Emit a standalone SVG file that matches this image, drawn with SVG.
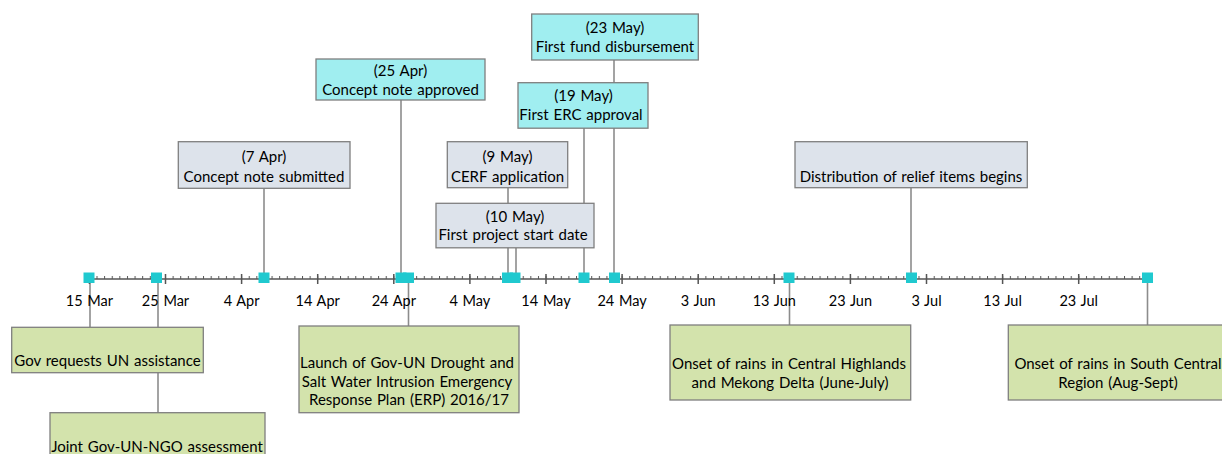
<svg xmlns="http://www.w3.org/2000/svg" width="1222" height="454" viewBox="0 0 1222 454">
<defs>
<pattern id="minor" patternUnits="userSpaceOnUse" x="88.9" y="0" width="7.611" height="454"><rect x="0" y="0" width="1" height="454" fill="#555555"/></pattern>
</defs>
<style>
.t{font-family:Lato,"Open Sans",sans-serif;font-size:15px;word-spacing:1px;fill:#000000;text-anchor:middle}
.tk{font-family:Lato,"Open Sans",sans-serif;font-size:14.5px;word-spacing:1px;fill:#000000;text-anchor:middle}
.cy{fill:#A0EEF0;stroke:#7F7F7F;stroke-width:1.3}
.gr{fill:#DDE3EB;stroke:#7F7F7F;stroke-width:1.3}
.gn{fill:#D3E3AC;stroke:#7F7F7F;stroke-width:1.3}
.ln{stroke:#8C8C8C;stroke-width:1.6;fill:none}
.sq{fill:#20C9CF}
.maj{stroke:#555555;stroke-width:1.5}
</style>
<rect width="1222" height="454" fill="#FFFFFF"/>
<g id="connectors">
<line class="ln" x1="264" y1="188" x2="264" y2="278"/>
<line class="ln" x1="401" y1="100" x2="401" y2="278"/>
<line class="ln" x1="508" y1="188" x2="508" y2="278"/>
<line class="ln" x1="516" y1="248" x2="516" y2="278"/>
<line class="ln" x1="584" y1="128" x2="584" y2="278"/>
<line class="ln" x1="614" y1="60" x2="614" y2="278"/>
<line class="ln" x1="911" y1="188" x2="911" y2="278"/>
<line class="ln" x1="90" y1="278" x2="90" y2="327"/>
<line class="ln" x1="158" y1="278" x2="158" y2="413"/>
<line class="ln" x1="408.5" y1="278" x2="408.5" y2="326"/>
<line class="ln" x1="789.5" y1="278" x2="789.5" y2="325"/>
<line class="ln" x1="1147.5" y1="278" x2="1147.5" y2="325"/>
</g>
<g id="axis">
<line x1="88" y1="279" x2="1148" y2="279" stroke="#555555" stroke-width="1.7"/>
<rect x="88" y="276" width="1060" height="3" fill="url(#minor)"/>
<path class="maj" d="M89.4 274V284M165.5 274V284M241.6 274V284M317.7 274V284M393.8 274V284M469.9 274V284M546 274V284M622.1 274V284M698.2 274V284M774.3 274V284M850.4 274V284M926.5 274V284M1002.6 274V284M1078.7 274V284"/>
<g class="tk">
<text x="89.4" y="305.5">15 Mar</text>
<text x="165.5" y="305.5">25 Mar</text>
<text x="241.6" y="305.5">4 Apr</text>
<text x="317.7" y="305.5">14 Apr</text>
<text x="393.8" y="305.5">24 Apr</text>
<text x="469.9" y="305.5">4 May</text>
<text x="546" y="305.5">14 May</text>
<text x="622.1" y="305.5">24 May</text>
<text x="698.2" y="305.5">3 Jun</text>
<text x="774.3" y="305.5">13 Jun</text>
<text x="850.4" y="305.5">23 Jun</text>
<text x="926.5" y="305.5">3 Jul</text>
<text x="1002.6" y="305.5">13 Jul</text>
<text x="1078.7" y="305.5">23 Jul</text>
</g>
<rect class="sq" x="83.5" y="272.5" width="11" height="10.5"/>
<rect class="sq" x="151" y="272.5" width="11" height="10.5"/>
<rect class="sq" x="258.5" y="272.5" width="11" height="10.5"/>
<rect class="sq" x="395.5" y="272.5" width="11" height="10.5"/>
<rect class="sq" x="403" y="272.5" width="11" height="10.5"/>
<rect class="sq" x="502" y="272.5" width="11" height="10.5"/>
<rect class="sq" x="509.5" y="272.5" width="11" height="10.5"/>
<rect class="sq" x="578.5" y="272.5" width="11" height="10.5"/>
<rect class="sq" x="609" y="272.5" width="11" height="10.5"/>
<rect class="sq" x="783.5" y="272.5" width="11" height="10.5"/>
<rect class="sq" x="906" y="272.5" width="11" height="10.5"/>
<rect class="sq" x="1142" y="272.5" width="11" height="10.5"/>
</g>
<g id="n-gov-requests">
<rect class="gn" x="11.7" y="327.3" width="191.6" height="45.4"/>
<text class="t" x="107.5" y="366">Gov requests UN assistance</text>
</g>
<g id="n-joint-assessment">
<rect class="gn" x="50" y="412.7" width="215" height="46"/>
<text class="t" x="157" y="451.5">Joint Gov-UN-NGO assessment</text>
</g>
<g id="n-concept-submitted">
<rect class="gr" x="178.3" y="141.7" width="171.7" height="46.6"/>
<text class="t" x="264" y="161.5">(7 Apr)</text>
<text class="t" x="264" y="181.5">Concept note submitted</text>
</g>
<g id="n-concept-approved">
<rect class="cy" x="316" y="59" width="169" height="41"/>
<text class="t" x="400.5" y="76">(25 Apr)</text>
<text class="t" x="400.5" y="95">Concept note approved</text>
</g>
<g id="n-launch-erp">
<rect class="gn" x="299" y="326" width="220" height="86.7"/>
<text class="t" x="407" y="368">Launch of Gov-UN Drought and</text>
<text class="t" x="407" y="386.5">Salt Water Intrusion Emergency</text>
<text class="t" x="409" y="405">Response Plan (ERP) 2016/17</text>
</g>
<g id="n-cerf-application">
<rect class="gr" x="447.3" y="141.7" width="120.4" height="46"/>
<text class="t" x="507.5" y="161.5">(9 May)</text>
<text class="t" x="507.5" y="181.5">CERF application</text>
</g>
<g id="n-project-start">
<rect class="gr" x="436" y="203.3" width="158" height="44.5"/>
<text class="t" x="515" y="221.5">(10 May)</text>
<text class="t" x="513" y="239.5">First project start date</text>
</g>
<g id="n-erc-approval">
<rect class="cy" x="518" y="82.7" width="130" height="45.5"/>
<text class="t" x="583.5" y="101">(19 May)</text>
<text class="t" x="581" y="120">First ERC approval</text>
</g>
<g id="n-fund-disbursement">
<rect class="cy" x="531.7" y="14" width="166.6" height="46"/>
<text class="t" x="615" y="33">(23 May)</text>
<text class="t" x="615" y="52">First fund disbursement</text>
</g>
<g id="n-rains-central">
<rect class="gn" x="670" y="325" width="240.7" height="75"/>
<text class="t" x="789" y="368.5">Onset of rains in Central Highlands</text>
<text class="t" x="790" y="387.5">and Mekong Delta (June-July)</text>
</g>
<g id="n-distribution">
<rect class="gr" x="795" y="141.7" width="232.3" height="46"/>
<text class="t" x="911" y="181.5">Distribution of relief items begins</text>
</g>
<g id="n-rains-south">
<rect class="gn" x="1008.3" y="325" width="220" height="75"/>
<text class="t" x="1118" y="368.5">Onset of rains in South Central</text>
<text class="t" x="1118" y="387.5">Region (Aug-Sept)</text>
</g>
</svg>
